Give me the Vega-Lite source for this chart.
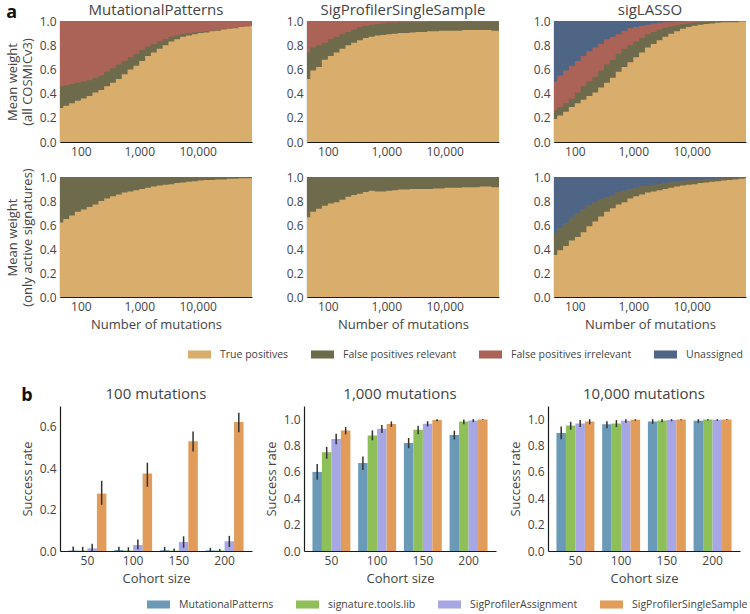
{
"$schema":"https://vega.github.io/schema/vega-lite/v6.json",
"padding":{"left":6,"top":3,"right":0,"bottom":2},
"config":{"font":"Open Sans","view":{"stroke":null},
"axis":{"domainColor":"#1a1a1a","domainWidth":1.2,"ticks":false,"grid":false,"labelFontSize":12,"labelColor":"#444","titleFontSize":13,"titleFontWeight":"normal","titleColor":"#444","labelPadding":4,"titlePadding":5,"labelOverlap":false,"labelBound":false},
"axisX":{"titlePadding":6},
"axisY":{"tickCount":10},
"title":{"fontSize":15,"fontWeight":"normal","color":"#444","offset":4},
"legend":{"direction":"horizontal","symbolType":"M-1,-0.35L1,-0.35L1,0.35L-1,0.35Z","symbolSize":529,"symbolStrokeWidth":0,"symbolOpacity":1,"labelFontSize":10.5,"labelColor":"#444","columnPadding":22,"labelOffset":9}},
"datasets":{
"A":[
{"p":"MP1","x":40,"tp":0.28,"fr":0.46,"fi":1},{"p":"MP1","x":50,"tp":0.3,"fr":0.47,"fi":1},{"p":"MP1","x":63,"tp":0.32,"fr":0.48,"fi":1},{"p":"MP1","x":79,"tp":0.34,"fr":0.49,"fi":1},{"p":"MP1","x":100,"tp":0.36,"fr":0.5,"fi":1},{"p":"MP1","x":126,"tp":0.38,"fr":0.51,"fi":1},{"p":"MP1","x":158,"tp":0.41,"fr":0.53,"fi":1},{"p":"MP1","x":200,"tp":0.43,"fr":0.55,"fi":1},{"p":"MP1","x":251,"tp":0.46,"fr":0.58,"fi":1},{"p":"MP1","x":316,"tp":0.49,"fr":0.61,"fi":1},{"p":"MP1","x":398,"tp":0.52,"fr":0.64,"fi":1},{"p":"MP1","x":501,"tp":0.56,"fr":0.67,"fi":1},{"p":"MP1","x":631,"tp":0.6,"fr":0.7,"fi":1},{"p":"MP1","x":794,"tp":0.63,"fr":0.73,"fi":1},{"p":"MP1","x":1000,"tp":0.67,"fr":0.76,"fi":1},{"p":"MP1","x":1259,"tp":0.71,"fr":0.79,"fi":1},{"p":"MP1","x":1585,"tp":0.74,"fr":0.81,"fi":1},{"p":"MP1","x":1995,"tp":0.77,"fr":0.83,"fi":1},{"p":"MP1","x":2512,"tp":0.8,"fr":0.85,"fi":1},{"p":"MP1","x":3162,"tp":0.83,"fr":0.87,"fi":1},{"p":"MP1","x":3981,"tp":0.85,"fr":0.88,"fi":1},{"p":"MP1","x":5012,"tp":0.87,"fr":0.895,"fi":1},{"p":"MP1","x":6310,"tp":0.88,"fr":0.9,"fi":1},{"p":"MP1","x":7943,"tp":0.89,"fr":0.905,"fi":1},{"p":"MP1","x":10000,"tp":0.9,"fr":0.91,"fi":1},{"p":"MP1","x":12589,"tp":0.905,"fr":0.915,"fi":1},{"p":"MP1","x":15849,"tp":0.915,"fr":0.92,"fi":1},{"p":"MP1","x":19953,"tp":0.92,"fr":0.925,"fi":1},{"p":"MP1","x":25119,"tp":0.93,"fr":0.93,"fi":1},{"p":"MP1","x":31623,"tp":0.935,"fr":0.935,"fi":1},{"p":"MP1","x":39811,"tp":0.94,"fr":0.94,"fi":1},{"p":"MP1","x":50119,"tp":0.95,"fr":0.95,"fi":1},{"p":"MP1","x":63096,"tp":0.955,"fr":0.955,"fi":1},{"p":"MP1","x":79433,"tp":0.96,"fr":0.96,"fi":1},{"p":"MP1","x":100000,"tp":0.96,"fr":0.96,"fi":1},
{"p":"SP1","x":40,"tp":0.52,"fr":0.74,"fi":1},{"p":"SP1","x":50,"tp":0.59,"fr":0.78,"fi":1},{"p":"SP1","x":63,"tp":0.62,"fr":0.8,"fi":1},{"p":"SP1","x":79,"tp":0.68,"fr":0.82,"fi":1},{"p":"SP1","x":100,"tp":0.71,"fr":0.85,"fi":1},{"p":"SP1","x":126,"tp":0.74,"fr":0.87,"fi":1},{"p":"SP1","x":158,"tp":0.77,"fr":0.89,"fi":1},{"p":"SP1","x":200,"tp":0.8,"fr":0.91,"fi":1},{"p":"SP1","x":251,"tp":0.82,"fr":0.93,"fi":1},{"p":"SP1","x":316,"tp":0.84,"fr":0.95,"fi":1},{"p":"SP1","x":398,"tp":0.86,"fr":0.96,"fi":1},{"p":"SP1","x":501,"tp":0.87,"fr":0.97,"fi":1},{"p":"SP1","x":631,"tp":0.88,"fr":0.975,"fi":1},{"p":"SP1","x":794,"tp":0.885,"fr":0.98,"fi":1},{"p":"SP1","x":1000,"tp":0.89,"fr":0.985,"fi":1},{"p":"SP1","x":1259,"tp":0.895,"fr":0.985,"fi":1},{"p":"SP1","x":1585,"tp":0.9,"fr":0.99,"fi":1},{"p":"SP1","x":1995,"tp":0.9,"fr":0.99,"fi":1},{"p":"SP1","x":2512,"tp":0.905,"fr":0.99,"fi":1},{"p":"SP1","x":3162,"tp":0.91,"fr":0.99,"fi":1},{"p":"SP1","x":3981,"tp":0.91,"fr":0.99,"fi":1},{"p":"SP1","x":5012,"tp":0.915,"fr":0.995,"fi":1},{"p":"SP1","x":6310,"tp":0.915,"fr":0.995,"fi":1},{"p":"SP1","x":7943,"tp":0.92,"fr":0.995,"fi":1},{"p":"SP1","x":10000,"tp":0.92,"fr":0.995,"fi":1},{"p":"SP1","x":12589,"tp":0.92,"fr":0.995,"fi":1},{"p":"SP1","x":15849,"tp":0.92,"fr":0.995,"fi":1},{"p":"SP1","x":19953,"tp":0.925,"fr":0.995,"fi":1},{"p":"SP1","x":25119,"tp":0.925,"fr":0.995,"fi":1},{"p":"SP1","x":31623,"tp":0.925,"fr":0.995,"fi":1},{"p":"SP1","x":39811,"tp":0.925,"fr":0.995,"fi":1},{"p":"SP1","x":50119,"tp":0.925,"fr":0.995,"fi":1},{"p":"SP1","x":63096,"tp":0.92,"fr":0.995,"fi":1},{"p":"SP1","x":79433,"tp":0.92,"fr":0.995,"fi":1},{"p":"SP1","x":100000,"tp":0.92,"fr":0.995,"fi":1},
{"p":"SL1","x":40,"tp":0.19,"fr":0.26,"fi":0.5},{"p":"SL1","x":50,"tp":0.22,"fr":0.29,"fi":0.55},{"p":"SL1","x":63,"tp":0.25,"fr":0.32,"fi":0.59},{"p":"SL1","x":79,"tp":0.29,"fr":0.36,"fi":0.63},{"p":"SL1","x":100,"tp":0.32,"fr":0.41,"fi":0.67},{"p":"SL1","x":126,"tp":0.35,"fr":0.46,"fi":0.71},{"p":"SL1","x":158,"tp":0.38,"fr":0.5,"fi":0.75},{"p":"SL1","x":200,"tp":0.41,"fr":0.54,"fi":0.78},{"p":"SL1","x":251,"tp":0.45,"fr":0.59,"fi":0.81},{"p":"SL1","x":316,"tp":0.49,"fr":0.64,"fi":0.85},{"p":"SL1","x":398,"tp":0.53,"fr":0.68,"fi":0.87},{"p":"SL1","x":501,"tp":0.58,"fr":0.73,"fi":0.89},{"p":"SL1","x":631,"tp":0.62,"fr":0.77,"fi":0.92},{"p":"SL1","x":794,"tp":0.66,"fr":0.8,"fi":0.94},{"p":"SL1","x":1000,"tp":0.7,"fr":0.83,"fi":0.95},{"p":"SL1","x":1259,"tp":0.74,"fr":0.86,"fi":0.96},{"p":"SL1","x":1585,"tp":0.78,"fr":0.89,"fi":0.97},{"p":"SL1","x":1995,"tp":0.81,"fr":0.91,"fi":0.98},{"p":"SL1","x":2512,"tp":0.84,"fr":0.93,"fi":0.985},{"p":"SL1","x":3162,"tp":0.87,"fr":0.945,"fi":0.99},{"p":"SL1","x":3981,"tp":0.895,"fr":0.955,"fi":0.99},{"p":"SL1","x":5012,"tp":0.915,"fr":0.965,"fi":0.995},{"p":"SL1","x":6310,"tp":0.935,"fr":0.975,"fi":0.995},{"p":"SL1","x":7943,"tp":0.95,"fr":0.98,"fi":1},{"p":"SL1","x":10000,"tp":0.96,"fr":0.985,"fi":1},{"p":"SL1","x":12589,"tp":0.97,"fr":0.99,"fi":1},{"p":"SL1","x":15849,"tp":0.975,"fr":0.99,"fi":1},{"p":"SL1","x":19953,"tp":0.98,"fr":0.995,"fi":1},{"p":"SL1","x":25119,"tp":0.985,"fr":0.995,"fi":1},{"p":"SL1","x":31623,"tp":0.99,"fr":1,"fi":1},{"p":"SL1","x":39811,"tp":0.99,"fr":1,"fi":1},{"p":"SL1","x":50119,"tp":0.99,"fr":1,"fi":1},{"p":"SL1","x":63096,"tp":0.995,"fr":1,"fi":1},{"p":"SL1","x":79433,"tp":0.995,"fr":1,"fi":1},{"p":"SL1","x":100000,"tp":0.995,"fr":1,"fi":1},
{"p":"MP2","x":40,"tp":0.62,"fr":1,"fi":1},{"p":"MP2","x":50,"tp":0.65,"fr":1,"fi":1},{"p":"MP2","x":63,"tp":0.68,"fr":1,"fi":1},{"p":"MP2","x":79,"tp":0.71,"fr":1,"fi":1},{"p":"MP2","x":100,"tp":0.73,"fr":1,"fi":1},{"p":"MP2","x":126,"tp":0.75,"fr":1,"fi":1},{"p":"MP2","x":158,"tp":0.77,"fr":1,"fi":1},{"p":"MP2","x":200,"tp":0.8,"fr":1,"fi":1},{"p":"MP2","x":251,"tp":0.82,"fr":1,"fi":1},{"p":"MP2","x":316,"tp":0.84,"fr":1,"fi":1},{"p":"MP2","x":398,"tp":0.855,"fr":1,"fi":1},{"p":"MP2","x":501,"tp":0.87,"fr":1,"fi":1},{"p":"MP2","x":631,"tp":0.88,"fr":1,"fi":1},{"p":"MP2","x":794,"tp":0.89,"fr":1,"fi":1},{"p":"MP2","x":1000,"tp":0.9,"fr":1,"fi":1},{"p":"MP2","x":1259,"tp":0.91,"fr":1,"fi":1},{"p":"MP2","x":1585,"tp":0.92,"fr":1,"fi":1},{"p":"MP2","x":1995,"tp":0.93,"fr":1,"fi":1},{"p":"MP2","x":2512,"tp":0.935,"fr":1,"fi":1},{"p":"MP2","x":3162,"tp":0.94,"fr":1,"fi":1},{"p":"MP2","x":3981,"tp":0.95,"fr":1,"fi":1},{"p":"MP2","x":5012,"tp":0.955,"fr":1,"fi":1},{"p":"MP2","x":6310,"tp":0.96,"fr":1,"fi":1},{"p":"MP2","x":7943,"tp":0.965,"fr":1,"fi":1},{"p":"MP2","x":10000,"tp":0.97,"fr":1,"fi":1},{"p":"MP2","x":12589,"tp":0.975,"fr":1,"fi":1},{"p":"MP2","x":15849,"tp":0.975,"fr":1,"fi":1},{"p":"MP2","x":19953,"tp":0.98,"fr":1,"fi":1},{"p":"MP2","x":25119,"tp":0.98,"fr":1,"fi":1},{"p":"MP2","x":31623,"tp":0.985,"fr":1,"fi":1},{"p":"MP2","x":39811,"tp":0.985,"fr":1,"fi":1},{"p":"MP2","x":50119,"tp":0.99,"fr":1,"fi":1},{"p":"MP2","x":63096,"tp":0.99,"fr":1,"fi":1},{"p":"MP2","x":79433,"tp":0.99,"fr":1,"fi":1},{"p":"MP2","x":100000,"tp":0.99,"fr":1,"fi":1},
{"p":"SP2","x":40,"tp":0.665,"fr":1,"fi":1},{"p":"SP2","x":50,"tp":0.71,"fr":1,"fi":1},{"p":"SP2","x":63,"tp":0.735,"fr":1,"fi":1},{"p":"SP2","x":79,"tp":0.76,"fr":1,"fi":1},{"p":"SP2","x":100,"tp":0.78,"fr":1,"fi":1},{"p":"SP2","x":126,"tp":0.79,"fr":1,"fi":1},{"p":"SP2","x":158,"tp":0.81,"fr":1,"fi":1},{"p":"SP2","x":200,"tp":0.835,"fr":1,"fi":1},{"p":"SP2","x":251,"tp":0.85,"fr":1,"fi":1},{"p":"SP2","x":316,"tp":0.86,"fr":1,"fi":1},{"p":"SP2","x":398,"tp":0.875,"fr":1,"fi":1},{"p":"SP2","x":501,"tp":0.885,"fr":1,"fi":1},{"p":"SP2","x":631,"tp":0.88,"fr":1,"fi":1},{"p":"SP2","x":794,"tp":0.88,"fr":1,"fi":1},{"p":"SP2","x":1000,"tp":0.885,"fr":1,"fi":1},{"p":"SP2","x":1259,"tp":0.89,"fr":1,"fi":1},{"p":"SP2","x":1585,"tp":0.895,"fr":1,"fi":1},{"p":"SP2","x":1995,"tp":0.895,"fr":1,"fi":1},{"p":"SP2","x":2512,"tp":0.9,"fr":1,"fi":1},{"p":"SP2","x":3162,"tp":0.9,"fr":1,"fi":1},{"p":"SP2","x":3981,"tp":0.9,"fr":1,"fi":1},{"p":"SP2","x":5012,"tp":0.9,"fr":1,"fi":1},{"p":"SP2","x":6310,"tp":0.905,"fr":1,"fi":1},{"p":"SP2","x":7943,"tp":0.905,"fr":1,"fi":1},{"p":"SP2","x":10000,"tp":0.91,"fr":1,"fi":1},{"p":"SP2","x":12589,"tp":0.91,"fr":1,"fi":1},{"p":"SP2","x":15849,"tp":0.91,"fr":1,"fi":1},{"p":"SP2","x":19953,"tp":0.915,"fr":1,"fi":1},{"p":"SP2","x":25119,"tp":0.915,"fr":1,"fi":1},{"p":"SP2","x":31623,"tp":0.915,"fr":1,"fi":1},{"p":"SP2","x":39811,"tp":0.92,"fr":1,"fi":1},{"p":"SP2","x":50119,"tp":0.92,"fr":1,"fi":1},{"p":"SP2","x":63096,"tp":0.915,"fr":1,"fi":1},{"p":"SP2","x":79433,"tp":0.915,"fr":1,"fi":1},{"p":"SP2","x":100000,"tp":0.915,"fr":1,"fi":1},
{"p":"SL2","x":40,"tp":0.35,"fr":0.53,"fi":0.53},{"p":"SL2","x":50,"tp":0.39,"fr":0.575,"fi":0.575},{"p":"SL2","x":63,"tp":0.425,"fr":0.615,"fi":0.615},{"p":"SL2","x":79,"tp":0.47,"fr":0.66,"fi":0.66},{"p":"SL2","x":100,"tp":0.5,"fr":0.7,"fi":0.7},{"p":"SL2","x":126,"tp":0.54,"fr":0.73,"fi":0.73},{"p":"SL2","x":158,"tp":0.59,"fr":0.76,"fi":0.76},{"p":"SL2","x":200,"tp":0.63,"fr":0.785,"fi":0.785},{"p":"SL2","x":251,"tp":0.67,"fr":0.81,"fi":0.81},{"p":"SL2","x":316,"tp":0.71,"fr":0.83,"fi":0.83},{"p":"SL2","x":398,"tp":0.74,"fr":0.85,"fi":0.85},{"p":"SL2","x":501,"tp":0.77,"fr":0.87,"fi":0.87},{"p":"SL2","x":631,"tp":0.79,"fr":0.885,"fi":0.885},{"p":"SL2","x":794,"tp":0.82,"fr":0.9,"fi":0.9},{"p":"SL2","x":1000,"tp":0.84,"fr":0.91,"fi":0.91},{"p":"SL2","x":1259,"tp":0.855,"fr":0.92,"fi":0.92},{"p":"SL2","x":1585,"tp":0.87,"fr":0.925,"fi":0.925},{"p":"SL2","x":1995,"tp":0.88,"fr":0.935,"fi":0.935},{"p":"SL2","x":2512,"tp":0.89,"fr":0.94,"fi":0.94},{"p":"SL2","x":3162,"tp":0.9,"fr":0.95,"fi":0.95},{"p":"SL2","x":3981,"tp":0.91,"fr":0.955,"fi":0.955},{"p":"SL2","x":5012,"tp":0.92,"fr":0.96,"fi":0.96},{"p":"SL2","x":6310,"tp":0.93,"fr":0.965,"fi":0.965},{"p":"SL2","x":7943,"tp":0.935,"fr":0.97,"fi":0.97},{"p":"SL2","x":10000,"tp":0.94,"fr":0.97,"fi":0.97},{"p":"SL2","x":12589,"tp":0.95,"fr":0.975,"fi":0.975},{"p":"SL2","x":15849,"tp":0.955,"fr":0.98,"fi":0.98},{"p":"SL2","x":19953,"tp":0.96,"fr":0.98,"fi":0.98},{"p":"SL2","x":25119,"tp":0.965,"fr":0.985,"fi":0.985},{"p":"SL2","x":31623,"tp":0.97,"fr":0.99,"fi":0.99},{"p":"SL2","x":39811,"tp":0.975,"fr":0.99,"fi":0.99},{"p":"SL2","x":50119,"tp":0.98,"fr":0.99,"fi":0.99},{"p":"SL2","x":63096,"tp":0.985,"fr":0.995,"fi":0.995},{"p":"SL2","x":79433,"tp":0.99,"fr":0.995,"fi":0.995},{"p":"SL2","x":100000,"tp":0.99,"fr":0.995,"fi":0.995}
],
"B":[
{"m":100,"c":50,"s":"MutationalPatterns","v":0.003,"lo":0,"hi":0.022},{"m":100,"c":50,"s":"signature.tools.lib","v":0.002,"lo":0,"hi":0.02},{"m":100,"c":50,"s":"SigProfilerAssignment","v":0.013,"lo":0,"hi":0.035},{"m":100,"c":50,"s":"SigProfilerSingleSample","v":0.277,"lo":0.223,"hi":0.339},
{"m":100,"c":100,"s":"MutationalPatterns","v":0.005,"lo":0,"hi":0.02},{"m":100,"c":100,"s":"signature.tools.lib","v":0.003,"lo":0,"hi":0.018},{"m":100,"c":100,"s":"SigProfilerAssignment","v":0.029,"lo":0.008,"hi":0.056},{"m":100,"c":100,"s":"SigProfilerSingleSample","v":0.374,"lo":0.31,"hi":0.426},
{"m":100,"c":150,"s":"MutationalPatterns","v":0.004,"lo":0,"hi":0.02},{"m":100,"c":150,"s":"signature.tools.lib","v":0.002,"lo":0,"hi":0.012},{"m":100,"c":150,"s":"SigProfilerAssignment","v":0.044,"lo":0.016,"hi":0.071},{"m":100,"c":150,"s":"SigProfilerSingleSample","v":0.53,"lo":0.48,"hi":0.577},
{"m":100,"c":200,"s":"MutationalPatterns","v":0.003,"lo":0,"hi":0.015},{"m":100,"c":200,"s":"signature.tools.lib","v":0.002,"lo":0,"hi":0.01},{"m":100,"c":200,"s":"SigProfilerAssignment","v":0.047,"lo":0.019,"hi":0.073},{"m":100,"c":200,"s":"SigProfilerSingleSample","v":0.623,"lo":0.573,"hi":0.668},
{"m":1000,"c":50,"s":"MutationalPatterns","v":0.6,"lo":0.54,"hi":0.66},{"m":1000,"c":50,"s":"signature.tools.lib","v":0.75,"lo":0.7,"hi":0.79},{"m":1000,"c":50,"s":"SigProfilerAssignment","v":0.85,"lo":0.81,"hi":0.89},{"m":1000,"c":50,"s":"SigProfilerSingleSample","v":0.915,"lo":0.885,"hi":0.94},
{"m":1000,"c":100,"s":"MutationalPatterns","v":0.668,"lo":0.615,"hi":0.717},{"m":1000,"c":100,"s":"signature.tools.lib","v":0.876,"lo":0.84,"hi":0.915},{"m":1000,"c":100,"s":"SigProfilerAssignment","v":0.927,"lo":0.896,"hi":0.956},{"m":1000,"c":100,"s":"SigProfilerSingleSample","v":0.964,"lo":0.942,"hi":0.983},
{"m":1000,"c":150,"s":"MutationalPatterns","v":0.82,"lo":0.78,"hi":0.857},{"m":1000,"c":150,"s":"signature.tools.lib","v":0.92,"lo":0.886,"hi":0.95},{"m":1000,"c":150,"s":"SigProfilerAssignment","v":0.966,"lo":0.944,"hi":0.985},{"m":1000,"c":150,"s":"SigProfilerSingleSample","v":0.993,"lo":0.985,"hi":1},
{"m":1000,"c":200,"s":"MutationalPatterns","v":0.88,"lo":0.847,"hi":0.913},{"m":1000,"c":200,"s":"signature.tools.lib","v":0.983,"lo":0.961,"hi":0.998},{"m":1000,"c":200,"s":"SigProfilerAssignment","v":0.99,"lo":0.978,"hi":1},{"m":1000,"c":200,"s":"SigProfilerSingleSample","v":0.997,"lo":0.993,"hi":1},
{"m":10000,"c":50,"s":"MutationalPatterns","v":0.896,"lo":0.847,"hi":0.944},{"m":10000,"c":50,"s":"signature.tools.lib","v":0.952,"lo":0.92,"hi":0.98},{"m":10000,"c":50,"s":"SigProfilerAssignment","v":0.968,"lo":0.94,"hi":0.993},{"m":10000,"c":50,"s":"SigProfilerSingleSample","v":0.983,"lo":0.961,"hi":1},
{"m":10000,"c":100,"s":"MutationalPatterns","v":0.961,"lo":0.932,"hi":0.985},{"m":10000,"c":100,"s":"signature.tools.lib","v":0.968,"lo":0.94,"hi":0.993},{"m":10000,"c":100,"s":"SigProfilerAssignment","v":0.988,"lo":0.973,"hi":1},{"m":10000,"c":100,"s":"SigProfilerSingleSample","v":0.995,"lo":0.988,"hi":1},
{"m":10000,"c":150,"s":"MutationalPatterns","v":0.983,"lo":0.964,"hi":1},{"m":10000,"c":150,"s":"signature.tools.lib","v":0.99,"lo":0.976,"hi":1},{"m":10000,"c":150,"s":"SigProfilerAssignment","v":0.993,"lo":0.984,"hi":1},{"m":10000,"c":150,"s":"SigProfilerSingleSample","v":0.997,"lo":0.992,"hi":1},
{"m":10000,"c":200,"s":"MutationalPatterns","v":0.988,"lo":0.973,"hi":1},{"m":10000,"c":200,"s":"signature.tools.lib","v":0.997,"lo":0.99,"hi":1},{"m":10000,"c":200,"s":"SigProfilerAssignment","v":0.995,"lo":0.988,"hi":1},{"m":10000,"c":200,"s":"SigProfilerSingleSample","v":0.998,"lo":0.994,"hi":1}
]},
"vconcat":[
{"title":{"text":"a","anchor":"start","fontSize":18,"fontWeight":"bold","color":"#111","dy":19,"offset":0},
 "data":{"name":"A"},
 "spacing":10,
 "vconcat":[
 {"spacing":34,"hconcat":[
  {"width":192,"height":121,"title":{"text":"MutationalPatterns","offset":-3},"transform":[{"filter":"datum.p=='MP1'"}],
   "encoding":{"x":{"field":"x","type":"quantitative","scale":{"type":"log","domain":[44,85000],"nice":false},"axis":{"values":[100,1000,10000],"format":","},"title":null}},
   "layer":[
    {"mark":{"type":"area","interpolate":"step-after","clip":true},"encoding":{"y":{"datum":1,"type":"quantitative","title":["Mean weight","(all COSMICv3)"]},"fill":{"datum":"Unassigned","scale":{"domain":["True positives","False positives relevant","False positives irrelevant","Unassigned"],"range":["#d9ad6b","#6e6b4c","#ab6357","#4e6585"]},"legend":{"title":null,"orient":"none","legendX":128,"legendY":322}}}},
    {"mark":{"type":"area","interpolate":"step-after","clip":true},"encoding":{"y":{"field":"fi","type":"quantitative","stack":null,"title":["Mean weight","(all COSMICv3)"]},"fill":{"datum":"False positives irrelevant"}}},
    {"mark":{"type":"area","interpolate":"step-after","clip":true},"encoding":{"y":{"field":"fr","type":"quantitative","stack":null,"title":["Mean weight","(all COSMICv3)"]},"fill":{"datum":"False positives relevant"}}},
    {"mark":{"type":"area","interpolate":"step-after","clip":true},"encoding":{"y":{"field":"tp","type":"quantitative","stack":null,"scale":{"domain":[0,1]},"axis":{"values":[0,0.2,0.4,0.6,0.8,1],"format":".1f","tickCount":10},"title":["Mean weight","(all COSMICv3)"]},"fill":{"datum":"True positives"}}}
   ]},
  {"width":192,"height":121,"title":{"text":"SigProfilerSingleSample","offset":-3},"transform":[{"filter":"datum.p=='SP1'"}],
   "encoding":{"x":{"field":"x","type":"quantitative","scale":{"type":"log","domain":[44,85000],"nice":false},"axis":{"values":[100,1000,10000],"format":","},"title":null}},
   "layer":[
    {"mark":{"type":"area","interpolate":"step-after","clip":true},"encoding":{"y":{"datum":1,"type":"quantitative","title":null},"fill":{"datum":"Unassigned"}}},
    {"mark":{"type":"area","interpolate":"step-after","clip":true},"encoding":{"y":{"field":"fi","type":"quantitative","stack":null,"title":null},"fill":{"datum":"False positives irrelevant"}}},
    {"mark":{"type":"area","interpolate":"step-after","clip":true},"encoding":{"y":{"field":"fr","type":"quantitative","stack":null,"title":null},"fill":{"datum":"False positives relevant"}}},
    {"mark":{"type":"area","interpolate":"step-after","clip":true},"encoding":{"y":{"field":"tp","type":"quantitative","stack":null,"scale":{"domain":[0,1]},"axis":{"values":[0,0.2,0.4,0.6,0.8,1],"format":".1f","tickCount":10},"title":null},"fill":{"datum":"True positives"}}}
   ]},
  {"width":192,"height":121,"title":{"text":"sigLASSO","offset":-3},"transform":[{"filter":"datum.p=='SL1'"}],
   "encoding":{"x":{"field":"x","type":"quantitative","scale":{"type":"log","domain":[44,85000],"nice":false},"axis":{"values":[100,1000,10000],"format":","},"title":null}},
   "layer":[
    {"mark":{"type":"area","interpolate":"step-after","clip":true},"encoding":{"y":{"datum":1,"type":"quantitative","title":null},"fill":{"datum":"Unassigned"}}},
    {"mark":{"type":"area","interpolate":"step-after","clip":true},"encoding":{"y":{"field":"fi","type":"quantitative","stack":null,"title":null},"fill":{"datum":"False positives irrelevant"}}},
    {"mark":{"type":"area","interpolate":"step-after","clip":true},"encoding":{"y":{"field":"fr","type":"quantitative","stack":null,"title":null},"fill":{"datum":"False positives relevant"}}},
    {"mark":{"type":"area","interpolate":"step-after","clip":true},"encoding":{"y":{"field":"tp","type":"quantitative","stack":null,"scale":{"domain":[0,1]},"axis":{"values":[0,0.2,0.4,0.6,0.8,1],"format":".1f","tickCount":10},"title":null},"fill":{"datum":"True positives"}}}
   ]}
 ]},
 {"spacing":34,"hconcat":[
  {"width":192,"height":120,"transform":[{"filter":"datum.p=='MP2'"}],
   "encoding":{"x":{"field":"x","type":"quantitative","scale":{"type":"log","domain":[44,85000],"nice":false},"axis":{"values":[100,1000,10000],"format":","},"title":"Number of mutations"}},
   "layer":[
    {"mark":{"type":"area","interpolate":"step-after","clip":true},"encoding":{"y":{"datum":1,"type":"quantitative","title":["Mean weight","(only active signatures)"]},"fill":{"datum":"Unassigned"}}},
    {"mark":{"type":"area","interpolate":"step-after","clip":true},"encoding":{"y":{"field":"fi","type":"quantitative","stack":null,"title":["Mean weight","(only active signatures)"]},"fill":{"datum":"False positives irrelevant"}}},
    {"mark":{"type":"area","interpolate":"step-after","clip":true},"encoding":{"y":{"field":"fr","type":"quantitative","stack":null,"title":["Mean weight","(only active signatures)"]},"fill":{"datum":"False positives relevant"}}},
    {"mark":{"type":"area","interpolate":"step-after","clip":true},"encoding":{"y":{"field":"tp","type":"quantitative","stack":null,"scale":{"domain":[0,1]},"axis":{"values":[0,0.2,0.4,0.6,0.8,1],"format":".1f","tickCount":10},"title":["Mean weight","(only active signatures)"]},"fill":{"datum":"True positives"}}}
   ]},
  {"width":192,"height":120,"transform":[{"filter":"datum.p=='SP2'"}],
   "encoding":{"x":{"field":"x","type":"quantitative","scale":{"type":"log","domain":[44,85000],"nice":false},"axis":{"values":[100,1000,10000],"format":","},"title":"Number of mutations"}},
   "layer":[
    {"mark":{"type":"area","interpolate":"step-after","clip":true},"encoding":{"y":{"datum":1,"type":"quantitative","title":null},"fill":{"datum":"Unassigned"}}},
    {"mark":{"type":"area","interpolate":"step-after","clip":true},"encoding":{"y":{"field":"fi","type":"quantitative","stack":null,"title":null},"fill":{"datum":"False positives irrelevant"}}},
    {"mark":{"type":"area","interpolate":"step-after","clip":true},"encoding":{"y":{"field":"fr","type":"quantitative","stack":null,"title":null},"fill":{"datum":"False positives relevant"}}},
    {"mark":{"type":"area","interpolate":"step-after","clip":true},"encoding":{"y":{"field":"tp","type":"quantitative","stack":null,"scale":{"domain":[0,1]},"axis":{"values":[0,0.2,0.4,0.6,0.8,1],"format":".1f","tickCount":10},"title":null},"fill":{"datum":"True positives"}}}
   ]},
  {"width":192,"height":120,"transform":[{"filter":"datum.p=='SL2'"}],
   "encoding":{"x":{"field":"x","type":"quantitative","scale":{"type":"log","domain":[44,85000],"nice":false},"axis":{"values":[100,1000,10000],"format":","},"title":"Number of mutations"}},
   "layer":[
    {"mark":{"type":"area","interpolate":"step-after","clip":true},"encoding":{"y":{"datum":1,"type":"quantitative","title":null},"fill":{"datum":"Unassigned"}}},
    {"mark":{"type":"area","interpolate":"step-after","clip":true},"encoding":{"y":{"field":"fi","type":"quantitative","stack":null,"title":null},"fill":{"datum":"False positives irrelevant"}}},
    {"mark":{"type":"area","interpolate":"step-after","clip":true},"encoding":{"y":{"field":"fr","type":"quantitative","stack":null,"title":null},"fill":{"datum":"False positives relevant"}}},
    {"mark":{"type":"area","interpolate":"step-after","clip":true},"encoding":{"y":{"field":"tp","type":"quantitative","stack":null,"scale":{"domain":[0,1]},"axis":{"values":[0,0.2,0.4,0.6,0.8,1],"format":".1f","tickCount":10},"title":null},"fill":{"datum":"True positives"}}}
   ]}
 ]}
]},
{"title":{"text":"b","anchor":"start","fontSize":18,"fontWeight":"bold","color":"#111","dy":18,"offset":0},
 "data":{"name":"B"},
 "spacing":13,
 "hconcat":[
  {"width":192,"height":145,"title":"100 mutations","transform":[{"filter":"datum.m==100"}],
   "encoding":{"x":{"field":"c","type":"ordinal","scale":{"paddingInner":0.17,"paddingOuter":0.185},"axis":{"labelAngle":0},"title":"Cohort size"},"xOffset":{"field":"s","type":"nominal","scale":{"domain":["MutationalPatterns","signature.tools.lib","SigProfilerAssignment","SigProfilerSingleSample"]}}},
   "layer":[
    {"mark":"bar","encoding":{"y":{"field":"v","type":"quantitative","scale":{"domain":[0,0.7]},"axis":{"values":[0,0.2,0.4,0.6],"format":".1f","tickCount":10},"title":"Success rate"},"color":{"field":"s","type":"nominal","scale":{"domain":["MutationalPatterns","signature.tools.lib","SigProfilerAssignment","SigProfilerSingleSample"],"range":["#6b9ab8","#8fbf58","#a7a7e6","#e19c59"]},"legend":{"title":null,"orient":"none","legendX":87,"legendY":572}}}},
    {"mark":{"type":"rule","color":"#333","strokeWidth":1.5},"encoding":{"y":{"field":"lo","type":"quantitative","title":"Success rate"},"y2":{"field":"hi"}}}
   ]},
  {"width":192,"height":145,"title":"1,000 mutations","transform":[{"filter":"datum.m==1000"}],
   "encoding":{"x":{"field":"c","type":"ordinal","scale":{"paddingInner":0.17,"paddingOuter":0.185},"axis":{"labelAngle":0},"title":"Cohort size"},"xOffset":{"field":"s","type":"nominal","scale":{"domain":["MutationalPatterns","signature.tools.lib","SigProfilerAssignment","SigProfilerSingleSample"]}}},
   "layer":[
    {"mark":"bar","encoding":{"y":{"field":"v","type":"quantitative","scale":{"domain":[0,1.05]},"axis":{"values":[0,0.2,0.4,0.6,0.8,1],"format":".1f","tickCount":10},"title":"Success rate"},"color":{"field":"s","type":"nominal"}}},
    {"mark":{"type":"rule","color":"#333","strokeWidth":1.5},"encoding":{"y":{"field":"lo","type":"quantitative","title":"Success rate"},"y2":{"field":"hi"}}}
   ]},
  {"width":192,"height":145,"title":"10,000 mutations","transform":[{"filter":"datum.m==10000"}],
   "encoding":{"x":{"field":"c","type":"ordinal","scale":{"paddingInner":0.17,"paddingOuter":0.185},"axis":{"labelAngle":0},"title":"Cohort size"},"xOffset":{"field":"s","type":"nominal","scale":{"domain":["MutationalPatterns","signature.tools.lib","SigProfilerAssignment","SigProfilerSingleSample"]}}},
   "layer":[
    {"mark":"bar","encoding":{"y":{"field":"v","type":"quantitative","scale":{"domain":[0,1.05]},"axis":{"values":[0,0.2,0.4,0.6,0.8,1],"format":".1f","tickCount":10},"title":"Success rate"},"color":{"field":"s","type":"nominal"}}},
    {"mark":{"type":"rule","color":"#333","strokeWidth":1.5},"encoding":{"y":{"field":"lo","type":"quantitative","title":"Success rate"},"y2":{"field":"hi"}}}
   ]}
 ]}
],
"spacing":56
}
